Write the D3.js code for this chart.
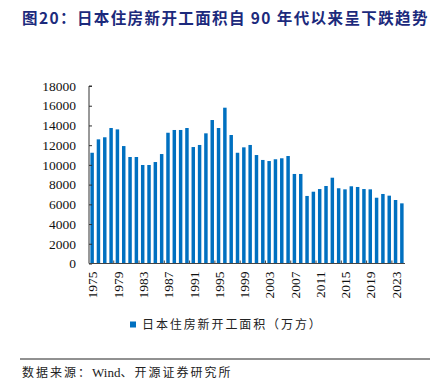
<!DOCTYPE html>
<html>
<head>
<meta charset="utf-8">
<script src="https://d3js.org/d3.v7.min.js"></script>
<style>
  body { margin: 0; background: #fff; }
  svg text { font-family: "Liberation Serif", "Noto Sans CJK SC", serif; }
</style>
</head>
<body>
<script>
const years = d3.range(1975, 2025).map(String)
// 日本住房新开工面积（万方）
const area = [
  11230, 12590, 12800, 13740, 13600, 11910, 10800, 10800, 9990, 9990,
  10290, 11100, 13260, 13540, 13540, 13740, 11810, 12020, 13200, 14550,
  13740, 15800, 13030, 11230, 11780, 12020, 11000, 10500, 10390, 10570,
  10670, 10900, 9080, 9080, 6850, 7280, 7550, 7860, 8700, 7630,
  7520, 7830, 7760, 7550, 7520, 6670, 7050, 6880, 6440, 6100
]
const yTicks = d3.range(0, 18001, 2000)
const xLabels = years.filter((d, i) => i % 4 === 0)

const w = 436, h = 389
const plot = { left: 89, right: 405, top: 86, bottom: 263.5 }
const barColor = "#0070C0"

const svg = d3.select("body").append("svg")
  .attr("width", w)
  .attr("height", h)

// title
svg.append("text")
  .attr("x", 22)
  .attr("y", 24)
  .attr("fill", "#1c2a7c")
  .attr("font-size", 15.5)
  .attr("font-weight", "bold")
  .attr("letter-spacing", 1.4)
  .style("font-family", "'Noto Sans CJK SC', sans-serif")
  .text("图20：日本住房新开工面积自 90 年代以来呈下跌趋势")

const x = d3.scaleBand()
  .domain(years)
  .range([plot.left, plot.right])
  .paddingInner(0.45)
  .paddingOuter(0.22)

const y = d3.scaleLinear()
  .domain([0, 18000])
  .range([plot.bottom, plot.top])

// bars
svg.append("g")
  .selectAll("rect")
  .data(years)
  .join("rect")
  .attr("x", d => x(d))
  .attr("y", (d, i) => y(area[i]))
  .attr("width", x.bandwidth())
  .attr("height", (d, i) => y(0) - y(area[i]))
  .attr("fill", barColor)

// y axis
const yAxis = svg.append("g")
  .attr("transform", `translate(${plot.left},0)`)
  .call(d3.axisRight(y).tickValues(yTicks).tickSize(3).tickFormat(""))
yAxis.select(".domain").attr("stroke", "#333").attr("d", `M3,${plot.top}H0V${plot.bottom}`)
yAxis.selectAll(".tick line").attr("stroke", "#333")

svg.append("g")
  .selectAll("text")
  .data(yTicks)
  .join("text")
  .attr("x", 76)
  .attr("y", d => y(d))
  .attr("dy", "0.35em")
  .attr("text-anchor", "end")
  .attr("font-size", 13.5)
  .attr("fill", "#111")
  .text(d => d)

// x axis line and ticks at band boundaries
const step = x.step()
const xAxis = svg.append("g")
xAxis.append("line")
  .attr("x1", plot.left).attr("x2", plot.right)
  .attr("y1", plot.bottom).attr("y2", plot.bottom)
  .attr("stroke", "#444").attr("stroke-width", 1.2)
xAxis.selectAll(".xt")
  .data(xLabels.slice(1))
  .join("line")
  .attr("x1", d => x(d) - step * 0.45 / 2 - 0.5)
  .attr("x2", d => x(d) - step * 0.45 / 2 - 0.5)
  .attr("y1", plot.bottom)
  .attr("y2", plot.bottom - 3)
  .attr("stroke", "#444")

// x labels rotated
xAxis.selectAll("text")
  .data(xLabels)
  .join("text")
  .attr("transform", d => `translate(${x(d) + x.bandwidth() / 2 + 0.5},${plot.bottom + 8}) rotate(-90)`)
  .attr("dy", "0.35em")
  .attr("text-anchor", "end")
  .attr("font-size", 13.5)
  .attr("fill", "#111")
  .text(d => d)

// legend
svg.append("rect")
  .attr("x", 130).attr("y", 321.5)
  .attr("width", 6).attr("height", 6)
  .attr("fill", barColor)
svg.append("text")
  .attr("x", 142)
  .attr("y", 329)
  .attr("font-size", 12)
  .attr("letter-spacing", 1.9)
  .attr("fill", "#222")
  .style("font-family", "'Noto Sans CJK SC', sans-serif")
  .text("日本住房新开工面积（万方）")

// source
svg.append("line")
  .attr("x1", 20).attr("x2", 430)
  .attr("y1", 359).attr("y2", 359)
  .attr("stroke", "#222").attr("stroke-width", 1)
const src = svg.append("text")
  .attr("x", 22)
  .attr("y", 377)
  .attr("font-size", 12)
  .attr("fill", "#222")
  .style("font-family", "'Liberation Serif', 'Noto Sans CJK SC', serif")
src.append("tspan").attr("letter-spacing", 2).text("数据来源：")
src.append("tspan").attr("font-size", 13).text("Wind")
src.append("tspan").attr("letter-spacing", 2).text("、开源证券研究所")
</script>
</body>
</html>
